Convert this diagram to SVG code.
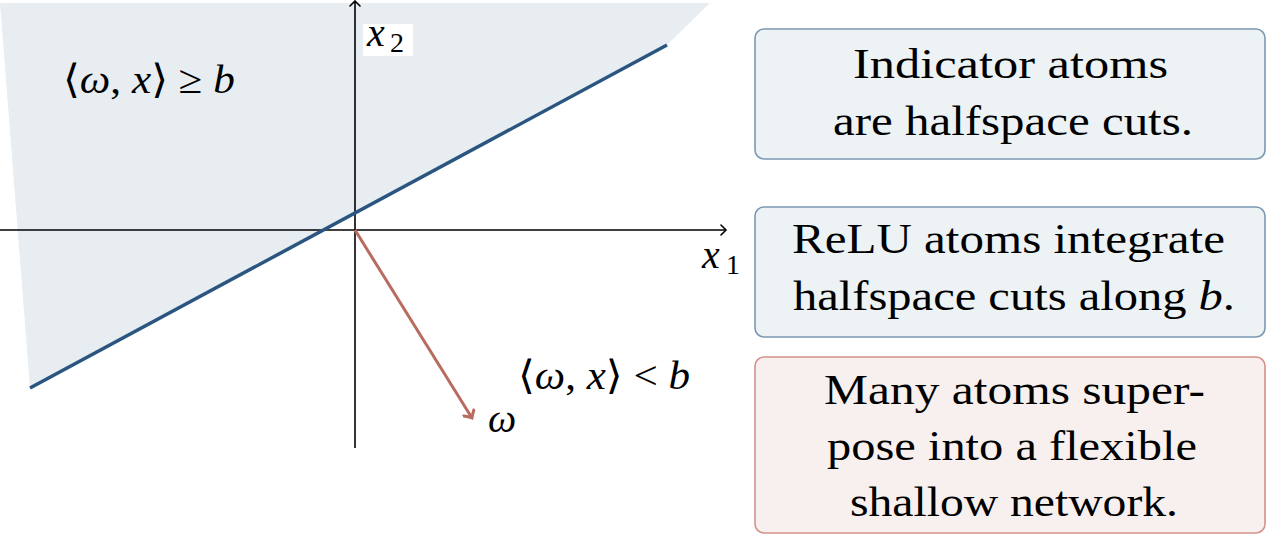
<svg xmlns="http://www.w3.org/2000/svg" width="1267" height="535" viewBox="0 0 1267 535">
<style>
.t{font-family:'Liberation Serif','DejaVu Serif',serif;font-size:42px;fill:#000}
.m{font-family:'Liberation Serif','DejaVu Serif',serif;font-size:40px;fill:#000}
.i{font-style:italic}
.sub{font-family:'Liberation Serif','DejaVu Serif',serif;font-size:28px;fill:#000}
.box{fill:#edf2f5;stroke:#7b98b3;stroke-width:1.6}
.boxr{fill:#f8f0ef;stroke:#d4918b;stroke-width:1.6}
.axis{stroke:#000;stroke-width:1.6;fill:none}
</style>
<defs>
<marker id="ah" viewBox="-6 -6 8 12" markerWidth="8" markerHeight="12" refX="0" refY="0" orient="auto" markerUnits="userSpaceOnUse">
<path d="M-5,-5 Q-1,-1 0,0 Q-1,1 -5,5" fill="none" stroke="#000" stroke-width="1.6" stroke-linecap="round"/>
</marker>
<marker id="ahr" viewBox="-8 -7 10 14" markerWidth="10" markerHeight="14" refX="0" refY="0" orient="auto" markerUnits="userSpaceOnUse">
<path d="M-6,-6 Q-1.5,-1 0,0 Q-1.5,1 -6,6" fill="none" stroke="#b86b5f" stroke-width="3" stroke-linecap="round"/>
</marker>
</defs>
<g id="plot">
<polygon points="0,3 710,3 667,45 30,388" fill="#e8edf2"/>
<rect x="363" y="24" width="50" height="32" fill="#fff"/>
</g>
<g id="connectors">
<line class="axis" x1="0" y1="230" x2="726" y2="230" marker-end="url(#ah)"/>
<line class="axis" x1="355" y1="448" x2="355" y2="1" marker-end="url(#ah)"/>
<line x1="30" y1="388" x2="667" y2="45" stroke="#2a5580" stroke-width="3.5"/>
<line x1="355" y1="230" x2="472" y2="418" stroke="#b86b5f" stroke-width="3" marker-end="url(#ahr)"/>
</g>
<g id="labels">
<text class="m" x="63" y="93" textLength="172" lengthAdjust="spacingAndGlyphs">⟨<tspan class="i">ω</tspan>, <tspan class="i">x</tspan>⟩ ≥ <tspan class="i">b</tspan></text>
<text class="m i" x="367" y="46">x</text><text class="sub" x="390" y="52">2</text>
<text class="m i" x="702" y="268">x</text><text class="sub" x="726" y="274">1</text>
<text class="m i" x="488" y="432">ω</text>
<text class="m" x="518" y="389" textLength="172" lengthAdjust="spacingAndGlyphs">⟨<tspan class="i">ω</tspan>, <tspan class="i">x</tspan>⟩ &lt; <tspan class="i">b</tspan></text>
</g>
<g id="box-indicator">
<rect class="box" x="755" y="29" width="510" height="130" rx="9"/>
<text class="t" x="853" y="78" textLength="315" lengthAdjust="spacingAndGlyphs">Indicator atoms</text>
<text class="t" x="833" y="135" textLength="360" lengthAdjust="spacingAndGlyphs">are halfspace cuts.</text>
</g>
<g id="box-relu">
<rect class="box" x="755" y="207" width="510" height="130" rx="9"/>
<text class="t" x="792" y="253" textLength="433" lengthAdjust="spacingAndGlyphs">ReLU atoms integrate</text>
<text class="t" x="793" y="310" textLength="442" lengthAdjust="spacingAndGlyphs">halfspace cuts along <tspan class="i">b</tspan>.</text>
</g>
<g id="box-many">
<rect class="boxr" x="755" y="357" width="510" height="176" rx="9"/>
<text class="t" x="824" y="404" textLength="381" lengthAdjust="spacingAndGlyphs">Many atoms super-</text>
<text class="t" x="827" y="460" textLength="370" lengthAdjust="spacingAndGlyphs">pose into a flexible</text>
<text class="t" x="850" y="516" textLength="328" lengthAdjust="spacingAndGlyphs">shallow network.</text>
</g>
</svg>
